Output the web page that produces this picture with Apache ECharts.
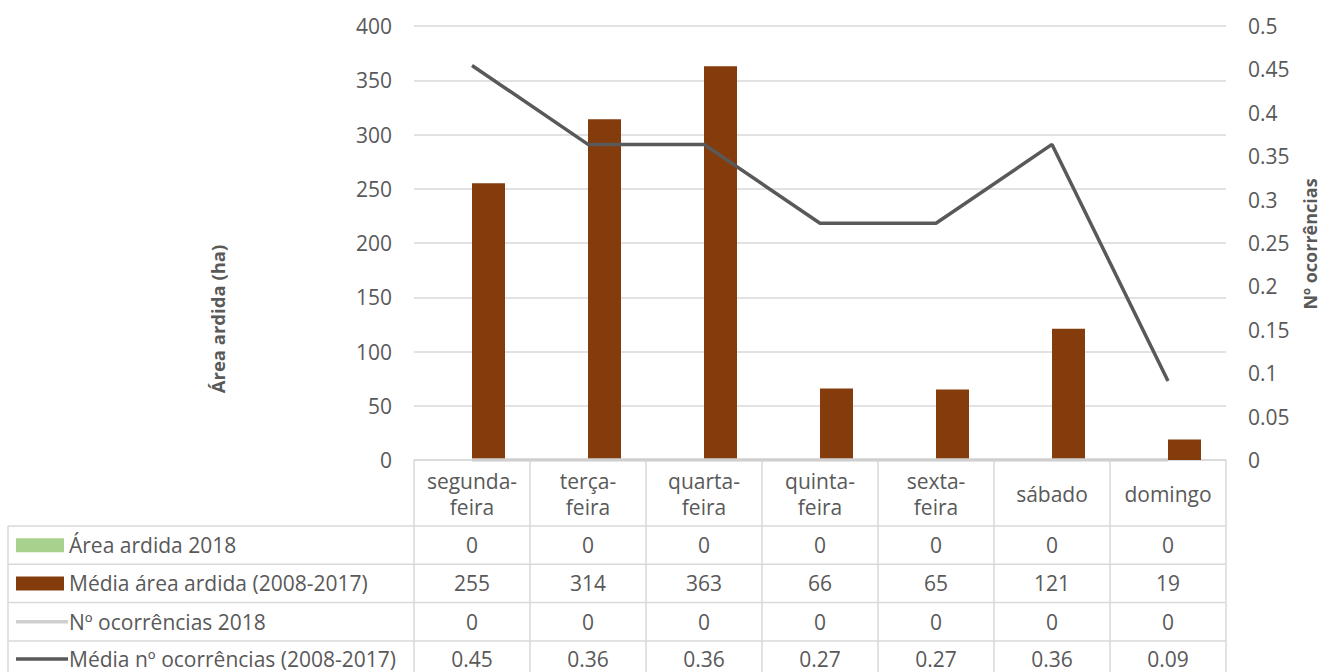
<!DOCTYPE html>
<html>
<head>
<meta charset="utf-8">
<script src="https://cdn.jsdelivr.net/npm/echarts@6/dist/echarts.min.js"></script>
<style>
  html, body { margin: 0; padding: 0; background: #fff; }
  #main { width: 1321px; height: 672px; }
</style>
</head>
<body>
<div id="main"></div>
<script>
// dados
const categories = ['segunda-feira', 'terça-feira', 'quarta-feira', 'quinta-feira', 'sexta-feira', 'sábado', 'domingo'];
const area2018 = [0, 0, 0, 0, 0, 0, 0];
const areaMedia = [255, 314, 363, 66, 65, 121, 19];
const ocorr2018 = [0, 0, 0, 0, 0, 0, 0];
const ocorrMedia = [0.4545, 0.3636, 0.3636, 0.2727, 0.2727, 0.3636, 0.0909];

const seriesNames = ['Área ardida 2018', 'Média área ardida (2008-2017)', 'Nº ocorrências 2018', 'Média nº ocorrências (2008-2017)'];

const txt = '#595959';
const gridCol = '#D9D9D9';
const font = '"Open Sans", "Liberation Sans", sans-serif';

var chart = echarts.init(document.getElementById('main'), null, { renderer: 'svg' });

const option = {
    animation: false,
    grid: { left: 414, right: 95, top: 26, bottom: 212 },
    xAxis: {
        type: 'category',
        data: categories,
        axisLine: { lineStyle: { color: gridCol, width: 1.5 } },
        axisTick: { show: false },
        axisLabel: { show: false }
    },
    yAxis: [{
        type: 'value',
        min: 0, max: 400, interval: 50,
        axisLine: { show: false },
        axisTick: { show: false },
        axisLabel: { color: txt, fontSize: 21, fontFamily: font, margin: 22 },
        splitLine: { lineStyle: { color: gridCol, width: 1.5 } }
    }, {
        type: 'value',
        min: 0, max: 0.5, interval: 0.05,
        axisLine: { show: false },
        axisTick: { show: false },
        axisLabel: { color: txt, fontSize: 21, fontFamily: font, margin: 22 },
        splitLine: { show: false }
    }],
    series: [{
        name: seriesNames[0],
        type: 'bar',
        data: area2018,
        barWidth: 33,
        barGap: '0%',
        itemStyle: { color: '#A9D18E' }
    }, {
        name: seriesNames[1],
        type: 'bar',
        data: areaMedia,
        barWidth: 33,
        itemStyle: { color: '#843C0C' }
    }, {
        name: seriesNames[2],
        type: 'line',
        yAxisIndex: 1,
        data: ocorr2018,
        showSymbol: false,
        lineStyle: { color: '#CFCFCF', width: 3.5 },
        z: 3
    }, {
        name: seriesNames[3],
        type: 'line',
        yAxisIndex: 1,
        data: ocorrMedia,
        showSymbol: false,
        lineStyle: { color: '#595959', width: 3.5 },
        z: 4
    }]
};

chart.setOption(option);

// tabela de dados por baixo do gráfico
const xs = categories.map(c => chart.convertToPixel({ xAxisIndex: 0 }, c));
const band = xs[1] - xs[0];
const tLeft = xs[0] - band / 2;
const tRight = xs[xs.length - 1] + band / 2;
const y0 = chart.convertToPixel({ yAxisIndex: 0 }, 0);
const headBottom = 526;
const rowH = 38.3;
const outerLeft = 8;

const rows = [
    { data: area2018, key: 'rect', color: '#A9D18E', fmt: v => String(Math.round(v)) },
    { data: areaMedia, key: 'rect', color: '#843C0C', fmt: v => String(Math.round(v)) },
    { data: ocorr2018, key: 'line', color: '#CFCFCF', fmt: v => v === 0 ? '0' : v.toFixed(2) },
    { data: ocorrMedia, key: 'line', color: '#595959', fmt: v => v === 0 ? '0' : v.toFixed(2) }
];

const els = [];
function hline(x1, x2, y) {
    els.push({ type: 'line', shape: { x1: x1, y1: y, x2: x2, y2: y }, style: { stroke: gridCol, lineWidth: 1.5 }, silent: true });
}
function vline(x, y1, y2) {
    els.push({ type: 'line', shape: { x1: x, y1: y1, x2: x, y2: y2 }, style: { stroke: gridCol, lineWidth: 1.5 }, silent: true });
}
function label(s, x, y, opts) {
    els.push({
        type: 'text', x: x, y: y, silent: true,
        style: Object.assign({
            text: s, fill: txt, fontSize: 21, fontFamily: font, lineHeight: 22,
            textAlign: 'center', textVerticalAlign: 'middle',
            align: 'center', verticalAlign: 'middle'
        }, opts || {})
    });
}

// grelha
for (let k = 0; k <= categories.length; k++) vline(tLeft + k * band, y0, 672);
vline(outerLeft, headBottom, 672);
for (let i = 0; i < rows.length; i++) hline(outerLeft, tRight, headBottom + i * rowH);

// cabeçalho
categories.forEach((c, i) => {
    label(c.replace('-', '-\n'), xs[i], (y0 + headBottom) / 2 + 1, { lineHeight: 26 });
});

// linhas
rows.forEach((r, i) => {
    const cy = Math.min(headBottom + i * rowH + rowH / 2, 659);
    if (r.key === 'rect') {
        els.push({ type: 'rect', shape: { x: 16, y: cy - 7, width: 48, height: 14 }, style: { fill: r.color }, silent: true });
    } else {
        els.push({ type: 'line', shape: { x1: 16, y1: cy, x2: 68, y2: cy }, style: { stroke: r.color, lineWidth: 3.5 }, silent: true });
    }
    label(seriesNames[i], 69, cy, { textAlign: 'left', align: 'left' });
    r.data.forEach((v, j) => label(r.fmt(v), xs[j], cy));
});

// títulos dos eixos
label('Área ardida (ha)', 217, 319, { fontSize: 18.5, fontWeight: 'bold', lineHeight: 19 });
els[els.length - 1].rotation = Math.PI / 2;
label('Nº ocorrências', 1310, 244, { fontSize: 18, fontWeight: 'bold', lineHeight: 18 });
els[els.length - 1].rotation = Math.PI / 2;

chart.setOption({ graphic: { elements: els } });

window.addEventListener('resize', function () {
    chart.resize();
});
</script>
</body>
</html>
